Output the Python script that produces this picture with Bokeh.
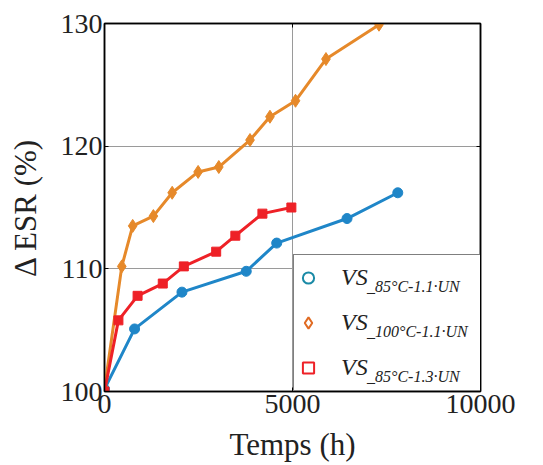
from bokeh.plotting import figure
from bokeh.models import (LinearAxis, FixedTicker, Legend, LegendItem, Range1d,
                          CustomJSTickFormatter)
from bokeh.embed import file_html
from bokeh.resources import INLINE

# Data
t_85_11 = [0, 800, 2060, 3770, 4580, 6450, 7800]
esr_85_11 = [100.2, 105.1, 108.1, 109.8, 112.1, 114.1, 116.2]

t_100_11 = [0, 460, 750, 1300, 1800, 2490, 3040, 3870, 4400, 5080, 5890, 7300]
esr_100_11 = [100.2, 110.2, 113.5, 114.3, 116.2, 117.9, 118.3, 120.5, 122.4, 123.7, 127.1, 129.9]

t_85_13 = [0, 370, 880, 1550, 2110, 2970, 3480, 4200, 4970]
esr_85_13 = [100.0, 105.8, 107.8, 108.8, 110.2, 111.4, 112.7, 114.5, 115.0]

x_ticks = [0, 5000, 10000]
y_ticks = [100, 110, 120, 130]
legend_main = ["VS", "VS", "VS"]
legend_sub = ["_85°C-1.1·UN", "_100°C-1.1·UN", "_85°C-1.3·UN"]

BLUE = "#1f86c8"
ORANGE = "#e6892a"
RED = "#ee2127"
FONT = "Liberation Serif"

p = figure(width=543, height=465, output_backend="svg", toolbar_location=None,
           x_range=Range1d(0, 10000), y_range=Range1d(100, 130),
           min_border_left=104, min_border_right=63, min_border_top=23, min_border_bottom=74)
p.background_fill_color = "white"
p.border_fill_color = "white"
p.outline_line_color = "black"
p.outline_line_width = 1.5

for ax in [p.xaxis[0], p.yaxis[0]]:
    ax.major_label_text_font = FONT
    ax.major_label_text_font_size = "28px"
    ax.major_label_text_color = "#222222"
    ax.axis_label_text_font = FONT
    ax.axis_label_text_font_size = "31px"
    ax.axis_label_text_font_style = "normal"
    ax.axis_label_text_color = "#222222"
    ax.major_tick_in = 4
    ax.major_tick_out = 0
    ax.minor_tick_in = 0
    ax.minor_tick_out = 0
    ax.axis_line_width = 1.5
    ax.axis_line_color = "black"

p.xaxis[0].ticker = FixedTicker(ticks=x_ticks)
p.yaxis[0].ticker = FixedTicker(ticks=y_ticks)
p.xaxis[0].axis_label = "Temps (h)"
p.yaxis[0].axis_label = "Δ ESR (%)"
p.xaxis[0].major_label_standoff = 3
p.yaxis[0].major_label_standoff = 2
p.xaxis[0].axis_label_standoff = 11
p.yaxis[0].axis_label_standoff = 15

blank = CustomJSTickFormatter(code="return ''")
top_ax = LinearAxis(ticker=FixedTicker(ticks=x_ticks), formatter=blank,
                    major_tick_in=4, major_tick_out=0, minor_tick_in=0, minor_tick_out=0,
                    axis_line_width=1.5, major_label_standoff=0)
right_ax = LinearAxis(ticker=FixedTicker(ticks=y_ticks), formatter=blank,
                      major_tick_in=4, major_tick_out=0, minor_tick_in=0, minor_tick_out=0,
                      axis_line_width=1.5, major_label_standoff=0)
p.add_layout(top_ax, "above")
p.add_layout(right_ax, "right")

p.xgrid.ticker = FixedTicker(ticks=x_ticks)
p.ygrid.ticker = FixedTicker(ticks=y_ticks)
p.grid.grid_line_color = "#9a9a9a"
p.grid.grid_line_width = 1

# series
p.line(t_85_11, esr_85_11, line_color=BLUE, line_width=3)
p.scatter(t_85_11, esr_85_11, marker="circle", size=10, fill_color=BLUE, line_color=BLUE)

p.line(t_100_11, esr_100_11, line_color=ORANGE, line_width=3)
p.scatter(t_100_11, esr_100_11, marker="diamond", size=13, fill_color=ORANGE, line_color=ORANGE)

p.line(t_85_13, esr_85_13, line_color=RED, line_width=3)
p.scatter(t_85_13, esr_85_13, marker="square", size=9, fill_color=RED, line_color=RED)

# legend glyph renderers (hollow), placed outside the visible range
r1 = p.scatter([-5000], [0], marker="circle", size=9, fill_color=None, line_color="#1a8aa6", line_width=2)
r2 = p.scatter([-5000], [0], marker="diamond", size=14, fill_color=None, line_color="#e06a22", line_width=2)
r3 = p.scatter([-5000], [0], marker="square", size=10, fill_color=None, line_color=RED, line_width=2)
# invisible renderer for the subscript legend
r0 = p.scatter([-5000], [0], marker="circle", size=1, fill_alpha=0, line_alpha=0)

legend = Legend(items=[LegendItem(label=legend_main[0], renderers=[r1]),
                       LegendItem(label=legend_main[1], renderers=[r2]),
                       LegendItem(label=legend_main[2], renderers=[r3])],
                location=(189, 0), padding=0, spacing=0, label_height=45, glyph_height=45,
                glyph_width=28, label_width=140, label_standoff=19,
                border_line_color="black", border_line_width=1.5,
                background_fill_color="white", background_fill_alpha=1.0,
                label_text_font=FONT, label_text_font_size="24px",
                label_text_font_style="italic", label_text_color="#222222")
p.add_layout(legend, "center")

legend_s = Legend(items=[LegendItem(label=legend_sub[0], renderers=[r0]),
                         LegendItem(label=legend_sub[1], renderers=[r0]),
                         LegendItem(label=legend_sub[2], renderers=[r0])],
                  location=(189, -8), padding=0, spacing=0, label_height=45, glyph_height=45,
                  glyph_width=28, label_width=100, label_standoff=46,
                  border_line_alpha=0, background_fill_alpha=0,
                  label_text_font=FONT, label_text_font_size="16px",
                  label_text_font_style="italic", label_text_color="#222222")
p.add_layout(legend_s, "center")

open("out.html", "w").write(file_html(p, INLINE))
